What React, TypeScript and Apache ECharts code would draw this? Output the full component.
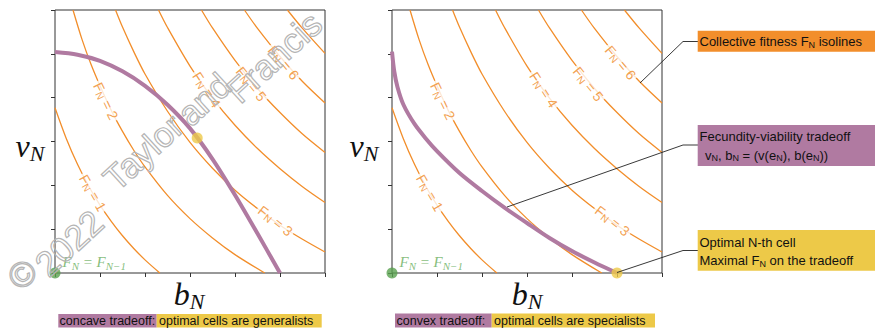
import React, { useEffect, useRef } from "react";
import * as echarts from "echarts";

// ---- data ----
const isoLevels = [1, 2, 3, 4, 5, 6, 7];
const isoF1 = [[0, 3.77], [0.25, 3.07], [0.5, 2.48], [0.75, 1.98], [1, 1.55], [1.25, 1.18], [1.5, 0.85], [1.75, 0.56], [2, 0.3], [2.33, 0]];
const isoF2 = [[0.4, 6], [0.6, 5.33], [0.8, 4.76], [1, 4.27], [1.25, 3.71], [1.5, 3.23], [1.75, 2.8], [2, 2.42], [2.5, 1.77], [3, 1.24], [3.5, 0.8], [4, 0.42], [4.66, 0]];
const isoF3 = [[1.345, 6], [1.5, 5.61], [1.75, 5.05], [2, 4.54], [2.5, 3.69], [3, 2.98], [3.5, 2.39], [4, 1.89], [4.5, 1.47], [5, 1.09], [5.5, 0.77], [6, 0.48]];
const isoF4 = [[2.3, 6], [2.5, 5.6], [3, 4.72], [3.5, 3.99], [4, 3.37], [4.5, 2.84], [5, 2.38], [5.5, 1.97], [6, 1.61]];
const isoF5 = [[3.255, 6], [3.5, 5.59], [4, 4.85], [4.5, 4.21], [5, 3.66], [5.5, 3.17], [6, 2.75]];
const isoF6 = [[4.21, 6], [4.5, 5.58], [5, 4.94], [5.5, 4.37], [6, 3.88]];
const isoF7 = [[5.165, 6], [5.5, 5.58], [6, 5.01]];
const isolines = [isoF1, isoF2, isoF3, isoF4, isoF5, isoF6, isoF7];

const isoLabelLevels = [1, 2, 3, 4, 5, 6];
const isoLabelAt = [[0.84, 1.83], [1.13, 3.92], [4.9, 1.19], [3.37, 4.18], [4.36, 4.31], [5.08, 4.8]];
const isoLabelAngle = [-60, -64, -38, -57, -51, -50];

const concaveTradeoff = [[0, 5.04], [0.5, 4.98], [1, 4.84], [1.5, 4.6], [2, 4.27], [2.5, 3.84], [3, 3.3], [3.5, 2.6], [4, 1.78], [4.5, 0.9], [5, 0]];
const convexTradeoff = [[0, 5.05], [0.05, 4.6], [0.12, 4.25], [0.25, 3.85], [0.5, 3.4], [0.75, 3.07], [1, 2.78], [1.5, 2.28], [2, 1.87], [2.5, 1.49], [3, 1.14], [3.5, 0.8], [4, 0.5], [4.5, 0.24], [5, 0]];
const optimumConcave = [3.16, 3.08];
const optimumConvex = [5, 0];
const originPoint = [0, 0];

const captionLeft = ["concave tradeoff:", "optimal cells are generalists"];
const captionRight = ["convex tradeoff:", "optimal cells are specialists"];
const watermarkWords = ["©", "2022", "Taylor", "and", "Francis"];

const ORANGE = "#f28e2b";
const PURPLE = "#b07aa1";
const YELLOW = "#edc948";
const GREEN = "#59a14f";
const SANS = '"Liberation Sans", Arial, sans-serif';
const SERIF = '"Liberation Serif", "DejaVu Serif", serif';

function subRich(size: number, color: string, family: string, italic = false) {
  const st = italic ? "italic" : "normal";
  return {
    a: { fontSize: size, color, fill: color, fontFamily: family, fontStyle: st },
    s: {
      fontSize: Math.round(size * 0.7),
      color,
      fill: color,
      fontFamily: family,
      fontStyle: st,
      padding: [Math.round(size * 0.45), 0, 0, 0],
    },
  };
}

export default function App() {
  const ref = useRef<HTMLDivElement>(null);
  useEffect(() => {
    const chart = echarts.init(ref.current!, null, { renderer: "svg" });
    const gridLefts = [55, 392];
    const grid = gridLefts.map((l) => ({
      left: l,
      top: 10,
      width: 270,
      height: 263,
      show: true,
      borderColor: "#333",
      borderWidth: 1,
      backgroundColor: "transparent",
    }));
    const axis = (gi: number) => ({
      type: "value",
      gridIndex: gi,
      min: 0,
      max: 6,
      interval: 1,
      axisLabel: { show: false },
      splitLine: { show: false },
      axisLine: { show: false },
      axisTick: { show: true, length: 4, lineStyle: { color: "#333", width: 1 } },
    });

    const series: any[] = [];
    [0, 1].forEach((p) => {
      isolines.forEach((d, i) => {
        series.push({
          type: "line",
          name: "F" + isoLevels[i],
          xAxisIndex: p,
          yAxisIndex: p,
          data: d,
          symbol: "none",
          smooth: 0.3,
          silent: true,
          lineStyle: { color: ORANGE, width: 1.3 },
          z: 2,
        });
      });
      series.push({
        type: "line",
        xAxisIndex: p,
        yAxisIndex: p,
        data: p === 0 ? concaveTradeoff : convexTradeoff,
        symbol: "none",
        smooth: 0.3,
        silent: true,
        lineStyle: { color: PURPLE, width: 4 },
        z: 3,
      });
      series.push({
        type: "scatter",
        xAxisIndex: p,
        yAxisIndex: p,
        symbolSize: 1,
        itemStyle: { color: "rgba(0,0,0,0)" },
        silent: true,
        z: 4,
        label: {
          show: true,
          position: "inside",
          backgroundColor: "#fff",
          padding: [0, 2, 0, 2],
          rich: subRich(14, "#ef8a25", SANS),
        },
        data: isoLabelLevels.map((lvl, i) => ({
          value: isoLabelAt[i],
          label: { rotate: isoLabelAngle[i], formatter: `{a|F}{s|N}{a| = ${lvl}}` },
        })),
      });
      series.push({
        type: "scatter",
        xAxisIndex: p,
        yAxisIndex: p,
        clip: false,
        symbolSize: 11,
        silent: true,
        itemStyle: { color: GREEN },
        z: 6,
        label: {
          show: true,
          position: "right",
          offset: [-3, -11],
          formatter: "{a|F}{s|N}{a| = F}{s|N−1}",
          rich: subRich(15, "#66ad5a", SERIF, true),
        },
        data: [originPoint],
      });
      series.push({
        type: "scatter",
        xAxisIndex: p,
        yAxisIndex: p,
        clip: false,
        symbolSize: 11,
        silent: true,
        itemStyle: { color: YELLOW },
        z: 7,
        data: [p === 0 ? optimumConcave : optimumConvex],
      });
    });

    const txt = (x: number, y: number, text: string, size: number, family: string, color: string, italic = false, align = "left") => ({
      type: "text",
      x,
      y,
      z: 20,
      style: {
        text,
        rich: subRich(size, color, family, italic),
        fontSize: size,
        fontFamily: family,
        fill: color,
        align,
        verticalAlign: "middle",
      },
    });

    const graphic: any[] = [];
    // axis names
    [[30, 146], [364, 146]].forEach(([x, y]) => graphic.push(txt(x, y, "{a|v}{s|N}", 32, SERIF, "#111", true, "center")));
    [[189, 294], [527, 294]].forEach(([x, y]) => graphic.push(txt(x, y, "{a|b}{s|N}", 32, SERIF, "#111", true, "center")));

    // connectors
    const line = (pts: number[][]) => ({ type: "polyline", z: 15, shape: { points: pts }, style: { stroke: "#222", lineWidth: 0.9, fill: null } });
    graphic.push(line([[698, 41.5], [683, 41.5], [640, 83]]));
    graphic.push(line([[698, 145], [683, 145], [507, 207]]));
    graphic.push(line([[698, 250.5], [683, 250.5], [617, 272.5]]));

    // annotation boxes
    graphic.push({ type: "rect", z: 16, shape: { x: 697.7, y: 30.7, width: 178, height: 21 }, style: { fill: ORANGE } });
    graphic.push(txt(699.5, 41.5, "{a|Collective fitness F}{s|N}{a| isolines}", 13, SANS, "#111"));
    graphic.push({ type: "rect", z: 16, shape: { x: 697.7, y: 125, width: 178, height: 41 }, style: { fill: PURPLE } });
    graphic.push(txt(699.5, 136, "{a|Fecundity-viability tradeoff}", 13, SANS, "#111"));
    graphic.push(txt(705, 155, "{a|v}{s|N}{a|, b}{s|N}{a| = (v(e}{s|N}{a|), b(e}{s|N}{a|))}", 13, SANS, "#111"));
    graphic.push({ type: "rect", z: 16, shape: { x: 697.7, y: 230, width: 178, height: 40.7 }, style: { fill: YELLOW } });
    graphic.push(txt(699.5, 242, "{a|Optimal N-th cell}", 13, SANS, "#111"));
    graphic.push(txt(699.5, 260.5, "{a|Maximal F}{s|N}{a| on the tradeoff}", 13, SANS, "#111"));

    // captions
    graphic.push({ type: "rect", z: 16, shape: { x: 58.3, y: 314, width: 98.4, height: 13.5 }, style: { fill: PURPLE } });
    graphic.push({ type: "rect", z: 16, shape: { x: 156.7, y: 314, width: 165, height: 13.5 }, style: { fill: YELLOW } });
    graphic.push(txt(59.5, 321, `{a|${captionLeft[0]}}`, 12.5, SANS, "#111"));
    graphic.push(txt(159, 321, `{a|${captionLeft[1]}}`, 12.5, SANS, "#111"));
    graphic.push({ type: "rect", z: 16, shape: { x: 395, y: 313.5, width: 96.7, height: 14 }, style: { fill: PURPLE } });
    graphic.push({ type: "rect", z: 16, shape: { x: 491.7, y: 313.5, width: 163.3, height: 14 }, style: { fill: YELLOW } });
    graphic.push(txt(396.5, 320.5, `{a|${captionRight[0]}}`, 12.5, SANS, "#111"));
    graphic.push(txt(494, 320.5, `{a|${captionRight[1]}}`, 12.5, SANS, "#111"));

    // watermark, word by word along the diagonal
    const wmCenters = [[22, 274], [69, 243], [143, 152], [204, 99], [274, 57]];
    watermarkWords.forEach((w, i) => {
      graphic.push({
        type: "text",
        x: wmCenters[i][0],
        y: wmCenters[i][1],
        rotation: (42.5 * Math.PI) / 180,
        z: 30,
        silent: true,
        style: {
          text: w,
          fontSize: 35,
          fontFamily: SANS,
          fill: "rgba(255,255,255,0)",
          stroke: "#b5b5b5",
          lineWidth: 1.2,
          align: "center",
          verticalAlign: "middle",
        },
      });
    });

    chart.setOption({
      animation: false,
      backgroundColor: "#fff",
      grid,
      xAxis: [axis(0), axis(1)],
      yAxis: [axis(0), axis(1)],
      series,
      graphic,
    });
    return () => chart.dispose();
  }, []);
  return <div ref={ref} style={{ position: "fixed", left: 0, top: 0, width: 875, height: 329 }} />;
}
